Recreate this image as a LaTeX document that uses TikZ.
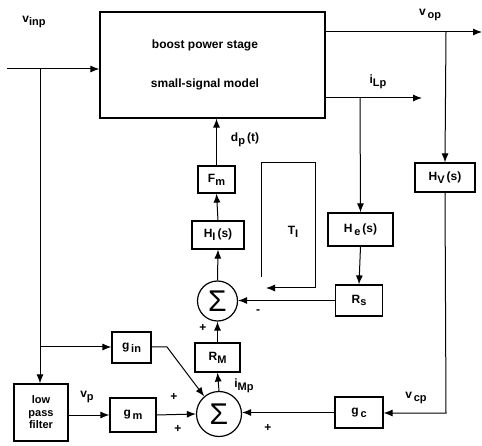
\documentclass[tikz,border=0pt]{standalone}
\usepackage{fontspec}
\setmainfont{Liberation Sans}
\usetikzlibrary{arrows.meta}
\newcommand{\sbs}[1]{\raisebox{-0.45ex}{\fontsize{11}{11}\selectfont #1}}
\begin{document}
\begin{tikzpicture}[x=1pt,y=-1pt,
  every node/.style={font=\bfseries\fontsize{12}{13}\selectfont},
  blk/.style={draw,line width=1.2pt,inner sep=0pt,minimum width=#1},
  sumc/.style={draw,circle,line width=1.2pt,inner sep=0pt,minimum size=#1,font=\fontsize{30}{30}\selectfont},
  lab/.style={inner sep=0pt},
  wire/.style={line width=1pt},
  arr/.style={wire,-{Latex[length=9pt,width=7pt]}}]
\useasboundingbox (0,0) rectangle (482,446);
% blocks
\node[blk=225pt,minimum height=106pt] (main) at (212.5,65) {};
\node[lab] (t1) at (205,45) {boost power stage};
\node[lab] (t2) at (205,84) {small-signal model};
\node[blk=37pt,minimum height=27pt] (Fm) at (216.5,179.5) {F\sbs{m}};
\node[blk=52pt,minimum height=28pt] (HI) at (218,235) {H\sbs{I}\,(s)};
\node[blk=65pt,minimum height=33pt] (He) at (360.5,229.5) {H\sbs{\,e}\,(s)};
\node[blk=60pt,minimum height=29pt] (Hv) at (445,177.5) {H\sbs{V}\,(s)};
\node[blk=47pt,minimum height=31pt] (Rs) at (359,300.5) {R\sbs{s}};
\node[sumc=40pt] (s1) at (217.5,301) {Σ};
\node[blk=45pt,minimum height=29pt] (RM) at (217.5,357.5) {R\sbs{M}};
\node[sumc=45pt] (s2) at (219,414) {Σ};
\node[blk=39pt,minimum height=31pt] (gin) at (131.5,347.5) {g\sbs{\,in}};
\node[blk=54pt,minimum height=57pt,align=center,font=\bfseries\fontsize{11}{12.5}\selectfont] (lpf) at (41,412.5) {low\\pass\\filter};
\node[blk=46pt,minimum height=34pt] (gm) at (133,415) {g\sbs{\,m}};
\node[blk=48pt,minimum height=31pt] (gc) at (359,412.5) {g\sbs{\,c}};
% coordinates
\coordinate (in) at (7,69);
\coordinate (jin) at (40,69);
\coordinate (vopend) at (482,32);
\coordinate (jop) at (446,32);
\coordinate (ilend) at (422,98);
\coordinate (jil) at (360,98);
\coordinate (jgin) at (40,347);
\coordinate (gk) at (167,347);
\coordinate (vcpc) at (446,413);
\coordinate (ta) at (261,277);
\coordinate (tb) at (261,163);
\coordinate (tc) at (315,163);
\coordinate (td) at (315,288);
\coordinate (te) at (266,288);
% wires
\draw[arr] (in) -- (in -| main.west);
\draw[arr] (main.east |- vopend) -- (vopend);
\draw[arr] (main.east |- ilend) -- (ilend);
\draw[arr] (jop) -- (Hv.north);
\draw[arr] (jil) -- (He.north);
\draw[arr] (He.south) -- (Rs.north);
\draw[arr] (jin) -- (jin |- lpf.north);
\draw[arr] (jgin) -- (gin.west |- jgin);
\draw[arr] (gin.east |- gk) -- (gk) -- (s2.130);
\draw[arr] (lpf.east |- gm.west) -- (gm.west);
\draw[arr] (gm.east) -- (s2.west);
\draw[arr] (Hv.south) -- (vcpc) -- (vcpc -| gc.east);
\draw[arr] (gc.west) -- (gc.west -| s2.east);
\draw[arr] (s2.north) -- (RM.south);
\draw[arr] (RM.north) -- (s1.south);
\draw[arr] (Rs.west) -- (Rs.west -| s1.east);
\draw[arr] (s1.north) -- (HI.south);
\draw[arr] (HI.north) -- (Fm.south);
\draw[arr] (Fm.north) -- (Fm.north |- main.south);
\draw[arr] (ta) -- (tb) -- (tc) -- (td) -- (te);
% labels
\node[lab] (lvinp) at (34,22) {v\sbs{inp}};
\node[lab] (lvop) at (430,15) {v\sbs{\,op}};
\node[lab] (lilp) at (378,82) {i\sbs{Lp}};
\node[lab] (ldp) at (245,140) {d\sbs{p}\,(t)};
\node[lab] (lti) at (293,232) {T\sbs{I}};
\node[lab] (lmin) at (258,312) {-};
\node[lab] (lp1) at (203,328) {+};
\node[lab] (lp2) at (174,397) {+};
\node[lab] (lp3) at (178,429) {+};
\node[lab] (lp4) at (268,428) {+};
\node[lab] (limp) at (244,386) {i\sbs{Mp}};
\node[lab] (lvp) at (87,397) {v\sbs{p}};
\node[lab] (lvcp) at (416,398) {v\sbs{\,cp}};
\end{tikzpicture}
\end{document}
